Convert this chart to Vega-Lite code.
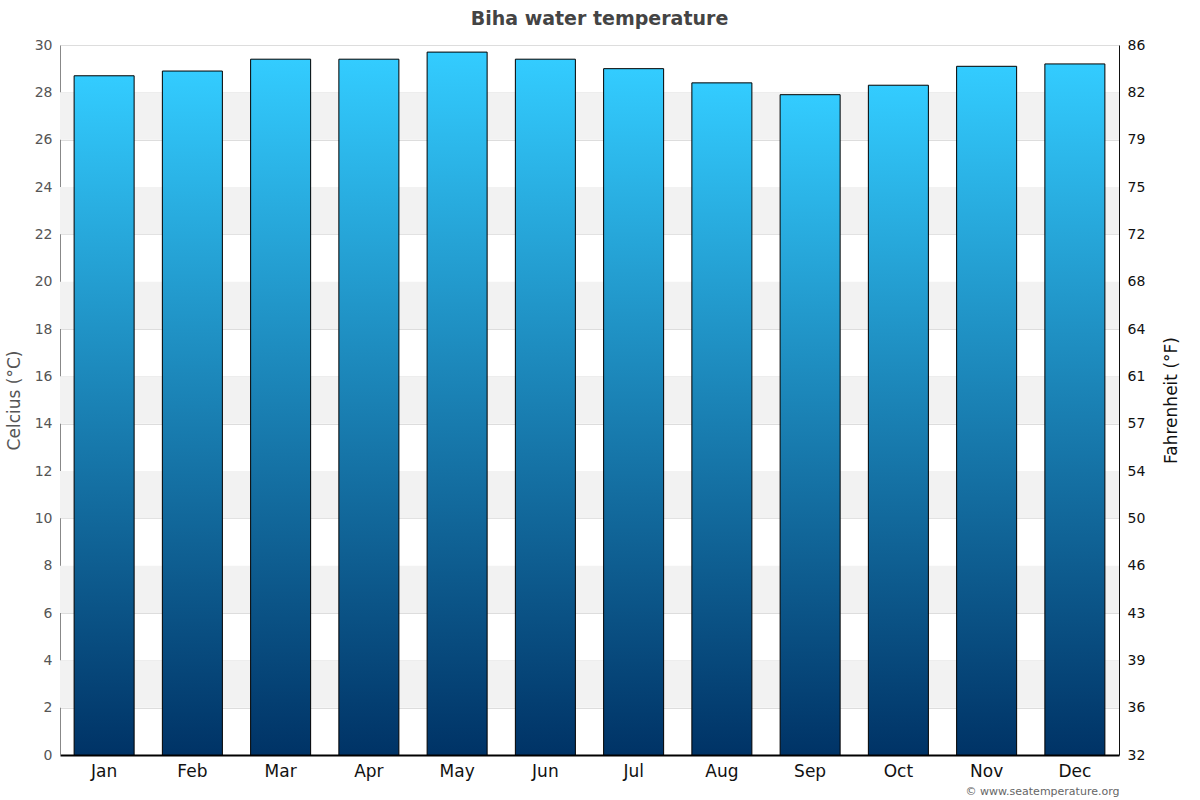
{
  "$schema": "https://vega.github.io/schema/vega-lite/v6.json",
  "width": 1059,
  "height": 710,
  "autosize": {"type": "none"},
  "padding": {"left": 60, "top": 45, "right": 81, "bottom": 45},
  "title": {
    "text": "Biha water temperature",
    "font": "DejaVu Sans",
    "fontSize": 19,
    "fontWeight": "bold",
    "color": "#444444",
    "anchor": "middle",
    "dx": 10,
    "offset": 9
  },
  "config": {
    "font": "DejaVu Sans",
    "view": {"stroke": null}
  },
  "datasets": {
    "months": [
      {"month": "Jan", "temp": 28.7},
      {"month": "Feb", "temp": 28.9},
      {"month": "Mar", "temp": 29.4},
      {"month": "Apr", "temp": 29.4},
      {"month": "May", "temp": 29.7},
      {"month": "Jun", "temp": 29.4},
      {"month": "Jul", "temp": 29.0},
      {"month": "Aug", "temp": 28.4},
      {"month": "Sep", "temp": 27.9},
      {"month": "Oct", "temp": 28.3},
      {"month": "Nov", "temp": 29.1},
      {"month": "Dec", "temp": 29.2}
    ],
    "bands": [
      {"lo": 2, "hi": 4},
      {"lo": 6, "hi": 8},
      {"lo": 10, "hi": 12},
      {"lo": 14, "hi": 16},
      {"lo": 18, "hi": 20},
      {"lo": 22, "hi": 24},
      {"lo": 26, "hi": 28}
    ]
  },
  "layer": [
    {
      "data": {"name": "bands"},
      "mark": {"type": "rect", "color": "#f2f2f2"},
      "encoding": {
        "y": {
          "field": "lo",
          "type": "quantitative",
          "scale": {"domain": [0, 30], "nice": false},
          "axis": {
            "orient": "right",
            "values": [0, 2, 4, 6, 8, 10, 12, 14, 16, 18, 20, 22, 24, 26, 28, 30],
            "labelExpr": "format(datum.value * 9 / 5 + 32, '.0f')",
            "title": "Fahrenheit (°F)",
            "titleAngle": 270,
            "titleFontSize": 17,
            "titleFontWeight": "normal",
            "titleColor": "#111111",
            "titlePadding": 36,
            "labelFontSize": 14,
            "labelColor": "#111111",
            "labelPadding": 8,
            "ticks": false,
            "grid": false,
            "domainColor": "#111111"
          }
        },
        "y2": {"field": "hi"}
      }
    },
    {
      "data": {"name": "months"},
      "mark": {
        "type": "bar",
        "stroke": "#000000",
        "strokeWidth": 1,
        "color": {
          "gradient": "linear",
          "x1": 0, "y1": 0, "x2": 0, "y2": 1,
          "stops": [
            {"offset": 0, "color": "#33ccff"},
            {"offset": 1, "color": "#003366"}
          ]
        }
      },
      "encoding": {
        "x": {
          "field": "month",
          "type": "nominal",
          "sort": null,
          "scale": {"paddingInner": 0.32, "paddingOuter": 0.16},
          "axis": {
            "title": "© www.seatemperature.org",
            "titleAnchor": "end",
            "titleFontSize": 11,
            "titleFontWeight": "normal",
            "titleColor": "#666666",
            "titlePadding": 6,
            "labelAngle": 0,
            "labelFontSize": 17,
            "labelColor": "#111111",
            "labelPadding": 8,
            "ticks": false,
            "domainColor": "#000000",
            "domainWidth": 2
          }
        },
        "y": {
          "field": "temp",
          "type": "quantitative",
          "scale": {"domain": [0, 30], "nice": false},
          "axis": {
            "orient": "left",
            "values": [0, 2, 4, 6, 8, 10, 12, 14, 16, 18, 20, 22, 24, 26, 28, 30],
            "title": "Celcius (°C)",
            "titleFontSize": 17,
            "titleFontWeight": "normal",
            "titleColor": "#555555",
            "titlePadding": 11,
            "labelFontSize": 14,
            "labelColor": "#555555",
            "labelPadding": 8,
            "ticks": false,
            "grid": true,
            "gridColor": "#dddddd",
            "domainColor": "#888888"
          }
        }
      }
    }
  ],
  "resolve": {"axis": {"y": "independent"}}
}
